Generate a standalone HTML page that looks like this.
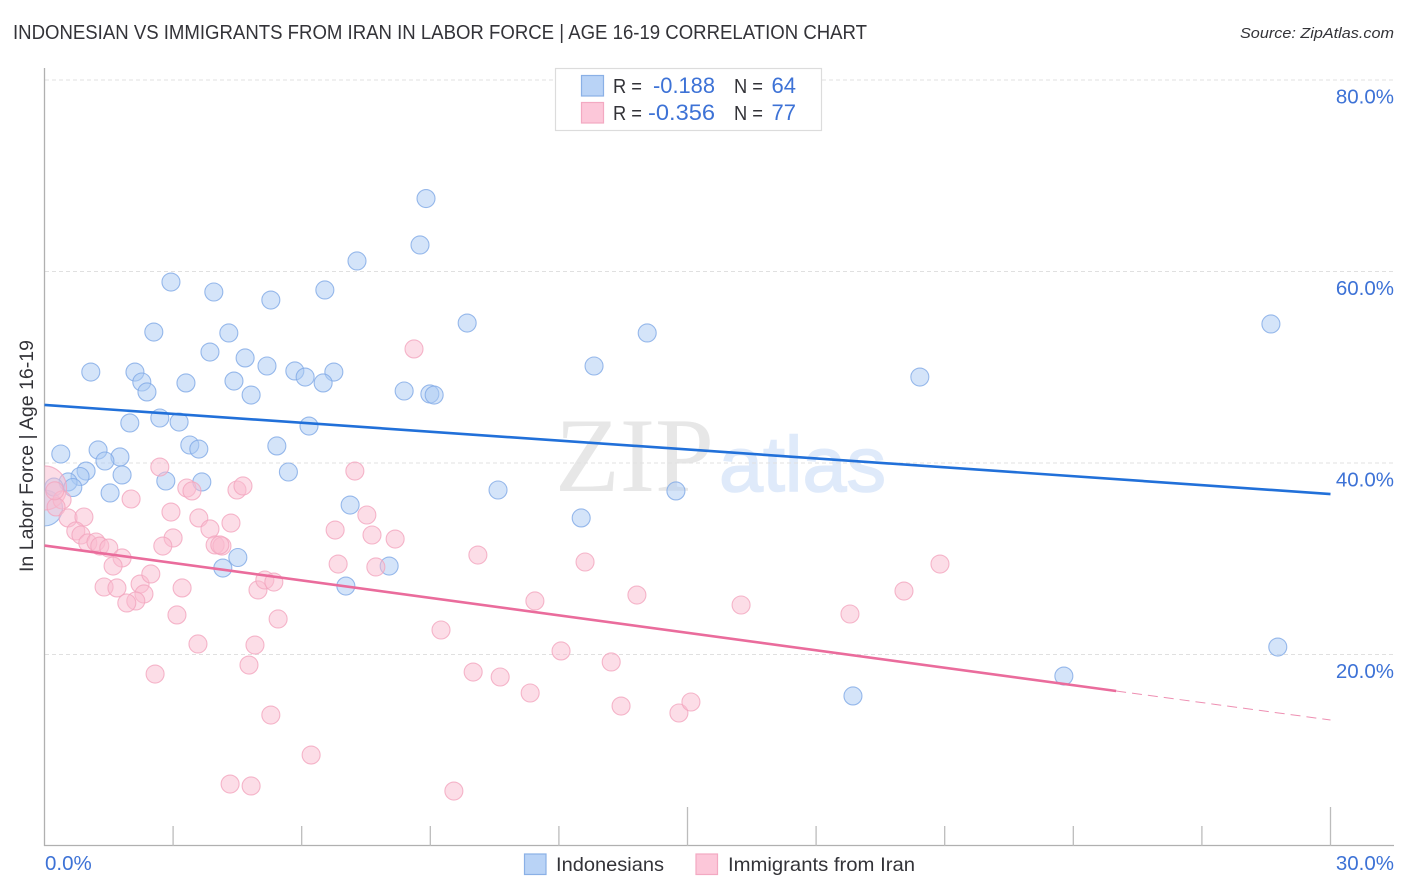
<!DOCTYPE html>
<html lang="en">
<head>
<meta charset="utf-8">
<title>Indonesian vs Immigrants from Iran in Labor Force | Age 16-19 Correlation Chart</title>
<style>
html,body{margin:0;padding:0;background:#fff;}
svg{display:block;font-family:"Liberation Sans",sans-serif;}
</style>
</head>
<body>
<svg id="chart" xmlns="http://www.w3.org/2000/svg" width="1406" height="892" viewBox="0 0 1406 892">
  <defs><clipPath id="plot-clip"><rect x="44.5" y="60" width="1350" height="786"/></clipPath></defs>
  <rect x="0" y="0" width="1406" height="892" fill="#ffffff"/>
  <text x="13" y="39" font-size="20" fill="#333338" textLength="854" lengthAdjust="spacingAndGlyphs">INDONESIAN VS IMMIGRANTS FROM IRAN IN LABOR FORCE | AGE 16-19 CORRELATION CHART</text>
  <text x="1394" y="38" font-size="15" font-style="italic" fill="#333338" text-anchor="end" textLength="154" lengthAdjust="spacingAndGlyphs">Source: ZipAtlas.com</text>
  <g>
    <text x="555" y="491" font-family="'Liberation Serif',serif" font-size="106" fill="#e7e7e7" textLength="159" lengthAdjust="spacingAndGlyphs">ZIP</text>
    <text x="719" y="491" font-family="'Liberation Sans',sans-serif" font-size="78" fill="#dfeafa" stroke="#dfeafa" stroke-width="1.5" textLength="167" lengthAdjust="spacingAndGlyphs">atlas</text>
  </g>
  <g id="grid"></g>
  <g id="axes"></g>
  <g id="blue-points" clip-path="url(#plot-clip)"></g>
  <g id="pink-points" clip-path="url(#plot-clip)"></g>
  <g id="trends"></g>
  <g id="labels"></g>
  <text transform="translate(33,456) rotate(-90)" font-size="19" fill="#333338" text-anchor="middle" textLength="232" lengthAdjust="spacingAndGlyphs">In Labor Force | Age 16-19</text>

  <g>
    <rect x="555.5" y="68.5" width="266" height="62" fill="#ffffff" stroke="#dcdcdc" stroke-width="1.2"/>
    <rect x="581.5" y="75.5" width="22" height="20.5" fill="#b9d3f6" stroke="#8ab0e6" stroke-width="1.2"/>
    <rect x="581.5" y="102.5" width="22" height="20.5" fill="#fcc7d9" stroke="#f3a9c2" stroke-width="1.2"/>
    <text x="613" y="93" font-size="20" fill="#333338" textLength="29" lengthAdjust="spacingAndGlyphs">R =</text>
    <text x="653" y="93" font-size="22" fill="#3d72d6" textLength="62" lengthAdjust="spacingAndGlyphs">-0.188</text>
    <text x="734" y="93" font-size="20" fill="#333338" textLength="29" lengthAdjust="spacingAndGlyphs">N =</text>
    <text x="796" y="93" font-size="22" fill="#3d72d6" text-anchor="end">64</text>
    <text x="613" y="120" font-size="20" fill="#333338" textLength="29" lengthAdjust="spacingAndGlyphs">R =</text>
    <text x="648" y="120" font-size="22" fill="#3d72d6" textLength="67" lengthAdjust="spacingAndGlyphs">-0.356</text>
    <text x="734" y="120" font-size="20" fill="#333338" textLength="29" lengthAdjust="spacingAndGlyphs">N =</text>
    <text x="796" y="120" font-size="22" fill="#3d72d6" text-anchor="end">77</text>
  </g>

  <g>
    <rect x="524.5" y="854" width="21.5" height="20.5" fill="#b9d3f6" stroke="#8ab0e6" stroke-width="1.2"/>
    <text x="556" y="871" font-size="19.5" fill="#333338" textLength="108" lengthAdjust="spacingAndGlyphs">Indonesians</text>
    <rect x="696" y="854" width="21.5" height="20.5" fill="#fcc7d9" stroke="#f3a9c2" stroke-width="1.2"/>
    <text x="728" y="871" font-size="19.5" fill="#333338" textLength="187" lengthAdjust="spacingAndGlyphs">Immigrants from Iran</text>
  </g>
</svg>
<script>
const indonesiansX = [8.90,8.76,7.29,2.95,3.95,6.54,5.28,2.55,4.30,9.86,14.06,28.61,3.86,4.68,1.08,2.11,5.19,5.84,6.08,6.75,6.50,3.30,2.27,2.39,4.42,4.82,8.39,8.99,9.09,12.82,20.42,1.99,2.69,3.14,6.17,3.39,3.60,5.42,1.25,1.76,1.41,0.38,0.97,0.83,1.81,5.69,3.67,2.83,0.55,0.66,1.53,0.22,10.58,14.73,7.13,12.52,4.51,4.16,8.04,7.03,23.78,18.86,28.77];
const indonesiansY = [67.62,62.77,61.10,58.90,57.86,58.07,57.02,53.68,53.58,54.62,53.58,54.52,51.59,50.97,49.50,49.50,50.13,49.61,48.98,49.50,48.36,48.36,48.46,47.42,48.56,47.10,47.52,47.21,47.10,50.13,48.98,44.18,44.70,44.28,43.86,41.88,41.46,41.78,41.36,40.63,40.21,40.94,39.16,38.59,38.75,39.06,38.02,38.12,38.02,37.44,36.87,37.49,37.18,37.08,35.61,34.26,30.13,29.03,29.24,27.15,17.75,15.67,20.78];
const iranX = [8.62,7.24,7.52,6.78,8.18,7.64,6.85,7.73,10.11,12.61,20.89,11.44,13.82,16.25,20.05,18.79,9.25,12.05,13.22,10.00,10.63,11.33,13.45,14.80,15.08,3.58,4.91,4.77,2.58,5.28,6.22,4.33,4.82,9.55,0.41,0.27,0.55,0.92,0.73,0.85,1.01,1.20,1.29,1.50,1.81,1.60,1.39,1.69,2.23,2.48,2.32,2.13,1.92,3.21,3.09,5.45,4.98,5.14,5.35,4.35,3.60,3.86,3.98,4.14,4.09,3.00,2.76,2.95,2.02,2.69,3.32,3.44,4.49,4.63,0.24];
const iranY = [51.91,39.16,34.57,33.00,32.06,32.48,29.45,29.14,30.39,29.66,29.45,25.59,26.21,25.17,26.63,24.23,22.56,20.37,19.22,18.17,17.65,15.98,14.62,13.89,15.04,21.10,20.99,18.90,17.96,13.68,9.50,6.47,6.27,5.74,36.14,35.41,34.26,34.36,32.90,32.48,31.65,31.75,31.33,31.12,30.08,29.24,27.05,26.95,27.36,28.41,26.32,25.59,25.38,26.95,24.13,23.71,26.74,27.78,27.57,33.73,34.26,33.11,31.44,31.33,31.44,32.17,31.33,34.88,36.24,39.58,37.39,37.08,37.18,37.60,37.10];
const aggregateIndonesiansX = [0];
const aggregateIndonesiansY = [35.30];
const aggregateIndonesiansCount = [4];
const aggregateIranX = [0];
const aggregateIranY = [37.39];
const aggregateIranCount = [6];
const trendIndonesiansX = [0,30];
const trendIndonesiansY = [46.06,36.76];
const trendIranX = [0,25];
const trendIranY = [31.38,16.19];
const trendIranExtX = [25,30];
const trendIranExtY = [16.19,13.16];
const yTickValues = [20,40,60,80];
const yTickLabels = ["20.0%","40.0%","60.0%","80.0%"];
const xTickValues = [3,6,9,12,15,18,21,24,27,30];
const xMajorTicks = [15,30];
const xEndLabels = ["0.0%","30.0%"];

const NS = "http://www.w3.org/2000/svg";
const xScale = v => 44.5 + v * (1286 / 30);
const yScale = v => 846 - v * 9.575;
const bubbleRadius = n => 9 * Math.sqrt(n);

function make(tag, attrs, parent) {
  const el = document.createElementNS(NS, tag);
  for (const k in attrs) el.setAttribute(k, attrs[k]);
  parent.appendChild(el);
  return el;
}

const grid = document.getElementById("grid");
yTickValues.forEach(v => {
  const l = make("line", {x1: 45, x2: 1394, y1: yScale(v), y2: yScale(v), stroke: "#e0e0e0", "stroke-width": 1, "stroke-dasharray": "4 3"}, grid);
  
  
});

const axes = document.getElementById("axes");
const yAxis = make("line", {x1: 44.5, x2: 44.5, y1: 68, y2: 846, stroke: "#b0b0b0", "stroke-width": 1.3}, axes);


const xAxis = make("line", {x1: 44, x2: 1394, y1: 845.5, y2: 845.5, stroke: "#b0b0b0", "stroke-width": 1.3}, axes);


xTickValues.forEach(v => {
  const top = xMajorTicks.includes(v) ? 807 : 826;
  const t = make("line", {x1: xScale(v), x2: xScale(v), y1: top, y2: 846, stroke: "#bcbcbc", "stroke-width": 1.3}, axes);
  
  
});

function drawPoints(parent, xs, ys, fill, stroke, fillOp, name) {
  xs.forEach((x, i) => {
    const c = make("circle", {cx: xScale(x), cy: yScale(ys[i]), r: 9, fill: fill, "fill-opacity": fillOp, stroke: stroke, "stroke-opacity": 0.8, "stroke-width": 1.1}, parent);
    
    
  });
}
function drawBubbles(parent, xs, ys, counts, fill, stroke, fillOp, name) {
  xs.forEach((x, i) => {
    const c = make("circle", {cx: xScale(x), cy: yScale(ys[i]), r: bubbleRadius(counts[i]), fill: fill, "fill-opacity": fillOp, stroke: stroke, "stroke-opacity": 0.8, "stroke-width": 1.1}, parent);
    
    
  });
}
const bluePts = document.getElementById("blue-points");
const pinkPts = document.getElementById("pink-points");
drawBubbles(bluePts, aggregateIndonesiansX, aggregateIndonesiansY, aggregateIndonesiansCount, "#a9c9f3", "#7fa9e6", 0.5, "indonesians-aggregate-point");
drawPoints(bluePts, indonesiansX, indonesiansY, "#a9c9f3", "#7fa9e6", 0.5, "indonesians-point");
drawBubbles(pinkPts, aggregateIranX, aggregateIranY, aggregateIranCount, "#f9bcd0", "#f2a5be", 0.5, "iran-aggregate-point");
drawPoints(pinkPts, iranX, iranY, "#f9bcd0", "#f2a5be", 0.5, "iran-point");

const trends = document.getElementById("trends");
function drawTrend(xs, ys, color, width, dash, name) {
  const attrs = {x1: xScale(xs[0]), y1: yScale(ys[0]), x2: xScale(xs[1]), y2: yScale(ys[1]), stroke: color, "stroke-width": width};
  if (dash) attrs["stroke-dasharray"] = dash;
  const l = make("line", attrs, trends);
  
  
}
drawTrend(trendIndonesiansX, trendIndonesiansY, "#2170d9", 2.6, null, "indonesians-trend-line");
drawTrend(trendIranX, trendIranY, "#ea6c9c", 2.6, null, "iran-trend-line");
drawTrend(trendIranExtX, trendIranExtY, "#ee8fb2", 1, "10 6", "iran-trend-extension");

const labels = document.getElementById("labels");
yTickValues.forEach((v, i) => {
  const t = make("text", {x: 1394, y: yScale(v) + 23.5, "font-size": 20.5, fill: "#3d72d6", "text-anchor": "end"}, labels);
  t.textContent = yTickLabels[i];
  
  
});
const x0Label = make("text", {x: 45, y: 870, "font-size": 20.5, fill: "#3d72d6"}, labels);
x0Label.textContent = xEndLabels[0];


const x1Label = make("text", {x: 1394, y: 870, "font-size": 20.5, fill: "#3d72d6", "text-anchor": "end"}, labels);
x1Label.textContent = xEndLabels[1];


</script>
</body>
</html>
